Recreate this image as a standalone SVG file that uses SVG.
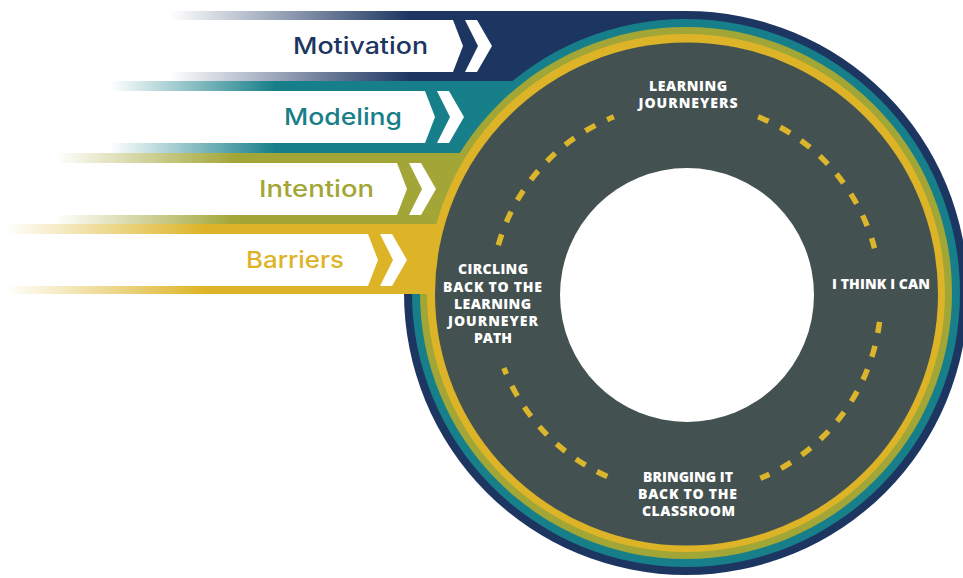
<svg xmlns="http://www.w3.org/2000/svg" width="963" height="578" viewBox="0 0 963 578">
  <defs>
    <linearGradient id="gNavy" gradientUnits="userSpaceOnUse" x1="170" y1="0" x2="410" y2="0">
      <stop offset="0" stop-color="#1d3661" stop-opacity="0"/>
      <stop offset="1" stop-color="#1d3661"/>
    </linearGradient>
    <linearGradient id="gTeal" gradientUnits="userSpaceOnUse" x1="110" y1="0" x2="275" y2="0">
      <stop offset="0" stop-color="#177f89" stop-opacity="0"/>
      <stop offset="1" stop-color="#177f89"/>
    </linearGradient>
    <linearGradient id="gOlive" gradientUnits="userSpaceOnUse" x1="55" y1="0" x2="235" y2="0">
      <stop offset="0" stop-color="#a2a637" stop-opacity="0"/>
      <stop offset="1" stop-color="#a2a637"/>
    </linearGradient>
    <linearGradient id="gYellow" gradientUnits="userSpaceOnUse" x1="5" y1="0" x2="205" y2="0">
      <stop offset="0" stop-color="#ddb427" stop-opacity="0"/>
      <stop offset="1" stop-color="#ddb427"/>
    </linearGradient>
  </defs>
  <style>
    .panel { fill: #ffffff; }
    .chev { fill: #ffffff; }
    .lbl { font-family: Inter, "Liberation Sans", sans-serif; font-weight: 500; font-size: 23.5px; text-anchor: end; }
    .stage { font-family: "Open Sans", "Liberation Sans", sans-serif; font-weight: 800; font-size: 14px; fill: #ffffff; text-anchor: middle; }
    .dash { fill: none; stroke: #dbb52c; stroke-width: 5.5; stroke-dasharray: 11.5 13; }
  </style>
  <rect width="963" height="578" fill="#ffffff"/>

  <g id="rings">
    <rect x="0" y="11" width="686" height="70" fill="url(#gNavy)"/>
    <circle cx="686" cy="293" r="282" fill="#1d3661"/>
    <rect x="0" y="81" width="686" height="72" fill="url(#gTeal)"/>
    <circle cx="686" cy="293" r="274" fill="#177f89"/>
    <rect x="0" y="153" width="686" height="71" fill="url(#gOlive)"/>
    <circle cx="686" cy="293" r="266" fill="#a2a637"/>
    <rect x="0" y="224" width="686" height="70" fill="url(#gYellow)"/>
    <circle cx="686" cy="293" r="259" fill="#ddb427"/>
    <circle cx="686.5" cy="294" r="251.5" fill="#435151"/>
    <circle cx="687" cy="295" r="127" fill="#ffffff"/>
  </g>

  <g id="band-motivation">
    <polygon class="panel" points="0,20 453,20 463,46 453,72 0,72"/>
    <polygon class="chev" points="465,20 477,20 492,46 477,72 465,72 478,46"/>
    <text class="lbl" x="428" y="54" fill="#1d3661" textLength="135" lengthAdjust="spacingAndGlyphs">Motivation</text>
  </g>
  <g id="band-modeling">
    <polygon class="panel" points="0,91 425,91 435,117 425,143 0,143"/>
    <polygon class="chev" points="437,91 449,91 464,117 449,143 437,143 450,117"/>
    <text class="lbl" x="402" y="124.5" fill="#177f89" textLength="118" lengthAdjust="spacingAndGlyphs">Modeling</text>
  </g>
  <g id="band-intention">
    <polygon class="panel" points="0,163 397,163 407,189 397,215 0,215"/>
    <polygon class="chev" points="409,163 421,163 436,189 421,215 409,215 422,189"/>
    <text class="lbl" x="374" y="196.5" fill="#a2a637" textLength="115" lengthAdjust="spacingAndGlyphs">Intention</text>
  </g>
  <g id="band-barriers">
    <polygon class="panel" points="0,234 368,234 378,260 368,286 0,286"/>
    <polygon class="chev" points="380,234 392,234 407,260 392,286 380,286 393,260"/>
    <text class="lbl" x="344" y="268" fill="#ddb427" textLength="98" lengthAdjust="spacingAndGlyphs">Barriers</text>
  </g>

  <g id="connectors">
    <path class="dash" d="M498.3,245.2 A195,195 0 0 1 613.9,116.8"/>
    <path class="dash" d="M758.1,116.8 A195,195 0 0 1 874.5,248.2"/>
    <path class="dash" d="M879.5,321.8 A195,195 0 0 1 760.3,478.3"/>
    <path class="dash" d="M607.3,476.4 A195,195 0 0 1 503.9,367.9"/>
  </g>

  <g id="stage-learning-journeyers">
    <text class="stage" x="688" y="90.5" textLength="78" lengthAdjust="spacing">LEARNING</text>
    <text class="stage" x="688" y="108" textLength="99" lengthAdjust="spacing">JOURNEYERS</text>
  </g>
  <g id="stage-i-think-i-can">
    <text class="stage" x="881" y="289" textLength="98" lengthAdjust="spacing">I THINK I CAN</text>
  </g>
  <g id="stage-bringing-it-back">
    <text class="stage" x="688" y="482" textLength="90" lengthAdjust="spacing">BRINGING IT</text>
    <text class="stage" x="687.5" y="499" textLength="99" lengthAdjust="spacing">BACK TO THE</text>
    <text class="stage" x="688.5" y="516" textLength="93" lengthAdjust="spacing">CLASSROOM</text>
  </g>
  <g id="stage-circling-back">
    <text class="stage" x="493" y="274" textLength="70" lengthAdjust="spacing">CIRCLING</text>
    <text class="stage" x="492.5" y="291.5" textLength="99" lengthAdjust="spacing">BACK TO THE</text>
    <text class="stage" x="492.5" y="308.5" textLength="77" lengthAdjust="spacing">LEARNING</text>
    <text class="stage" x="493" y="326" textLength="90" lengthAdjust="spacing">JOURNEYER</text>
    <text class="stage" x="493" y="343" textLength="38" lengthAdjust="spacing">PATH</text>
  </g>
</svg>
